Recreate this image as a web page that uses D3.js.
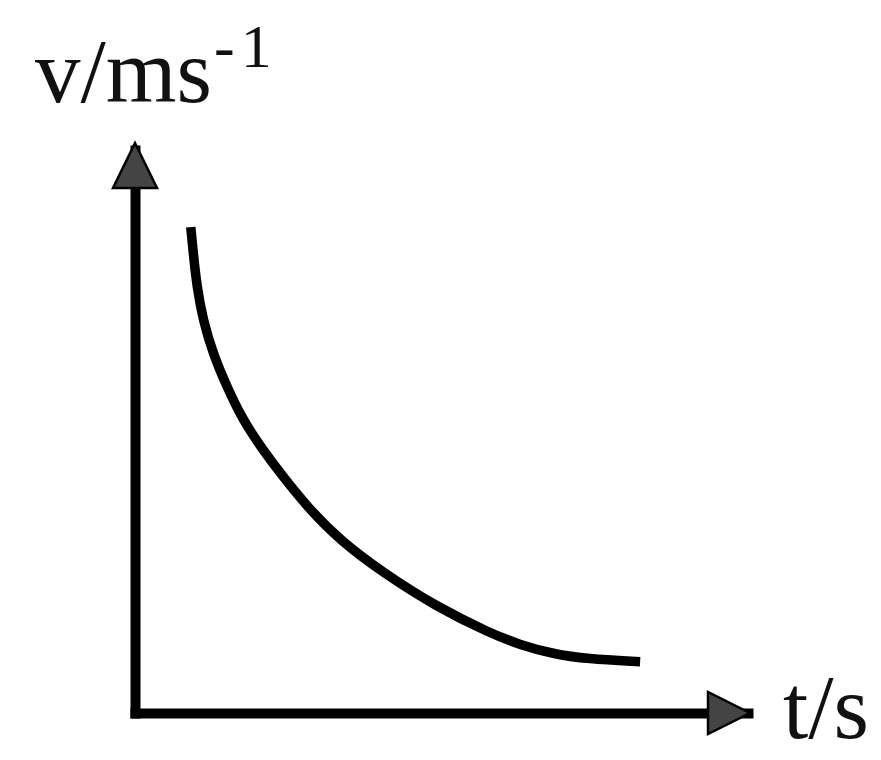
<!DOCTYPE html>
<html>
<head>
<meta charset="utf-8">
<script src="https://cdn.jsdelivr.net/npm/d3@7"></script>
<style>
    body { margin: 0; background: #fff; }
    .label { font-family: "Liberation Serif", "Times New Roman", serif; fill: #111; }
</style>
</head>
<body>
<div id="chart"></div>
<script>

// curve (arbitrary units, t on 0..10, v on 0..10)
let tValues = [0.91, 0.95, 1.01, 1.11, 1.27, 1.50, 1.76, 2.09, 2.37, 2.81, 3.34, 4.05, 4.93, 5.79, 6.28, 6.82, 7.37, 8.24];
let vValues = [8.63, 8.17, 7.57, 6.98, 6.39, 5.79, 5.20, 4.67, 4.26, 3.66, 3.07, 2.49, 1.88, 1.42, 1.21, 1.05, 0.96, 0.91];

let yLabel = "v/ms";
let yLabelSup = ["-", "1"];
let xLabel = "t/s";

let width = 881, height = 760;

let svg = d3.select("#chart").append("svg")
    .attr("width", width)
    .attr("height", height);

// scales
let x = d3.scaleLinear().domain([0, 10]).range([135, 748]);
let y = d3.scaleLinear().domain([0, 10]).range([713, 150]);

// axes without ticks, just the thick lines
let xAxis = d3.axisBottom(x).tickValues([]).tickSizeOuter(0);
let yAxis = d3.axisLeft(y).tickValues([]).tickSizeOuter(0);

svg.append("g")
    .attr("class", "x-axis")
    .attr("transform", "translate(0," + y(0) + ")")
    .call(xAxis);

svg.append("g")
    .attr("class", "y-axis")
    .attr("transform", "translate(" + x(0) + ",0)")
    .call(yAxis);

svg.selectAll(".domain")
    .attr("stroke", "#000")
    .attr("stroke-width", 10)
    .attr("stroke-linecap", "square");

// arrow heads
let tipX = x(10) + 2, tipY = y(10) - 7;
svg.append("polygon")
    .attr("points", [[tipX, y(0)], [tipX - 42, y(0) - 21], [tipX - 42, y(0) + 21]].join(" "))
    .attr("fill", "#444")
    .attr("stroke", "#000")
    .attr("stroke-width", 2.5)
    .attr("stroke-linejoin", "miter");

svg.append("polygon")
    .attr("points", [[x(0), tipY], [x(0) - 22, tipY + 45], [x(0) + 22, tipY + 45]].join(" "))
    .attr("fill", "#444")
    .attr("stroke", "#000")
    .attr("stroke-width", 2.5)
    .attr("stroke-linejoin", "miter");

// the curve
let data = tValues.map((t, i) => ({t: t, v: vValues[i]}));

let line = d3.line()
    .curve(d3.curveBasis)
    .x(d => x(d.t))
    .y(d => y(d.v));

svg.append("path")
    .datum(data)
    .attr("d", line)
    .attr("fill", "none")
    .attr("stroke", "#000")
    .attr("stroke-width", 9.5)
    .attr("stroke-linecap", "butt");

// labels
svg.append("text")
    .attr("class", "label")
    .attr("x", 35)
    .attr("y", 102)
    .attr("font-size", 91)
    .text(yLabel);

let sup = svg.append("text")
    .attr("class", "label")
    .attr("x", 214)
    .attr("y", 67)
    .attr("font-size", 62);
sup.append("tspan").text(yLabelSup[0]);
sup.append("tspan").attr("dx", 6).text(yLabelSup[1]);

svg.append("text")
    .attr("class", "label")
    .attr("x", 783)
    .attr("y", 738)
    .attr("font-size", 91)
    .text(xLabel);

</script>
</body>
</html>
